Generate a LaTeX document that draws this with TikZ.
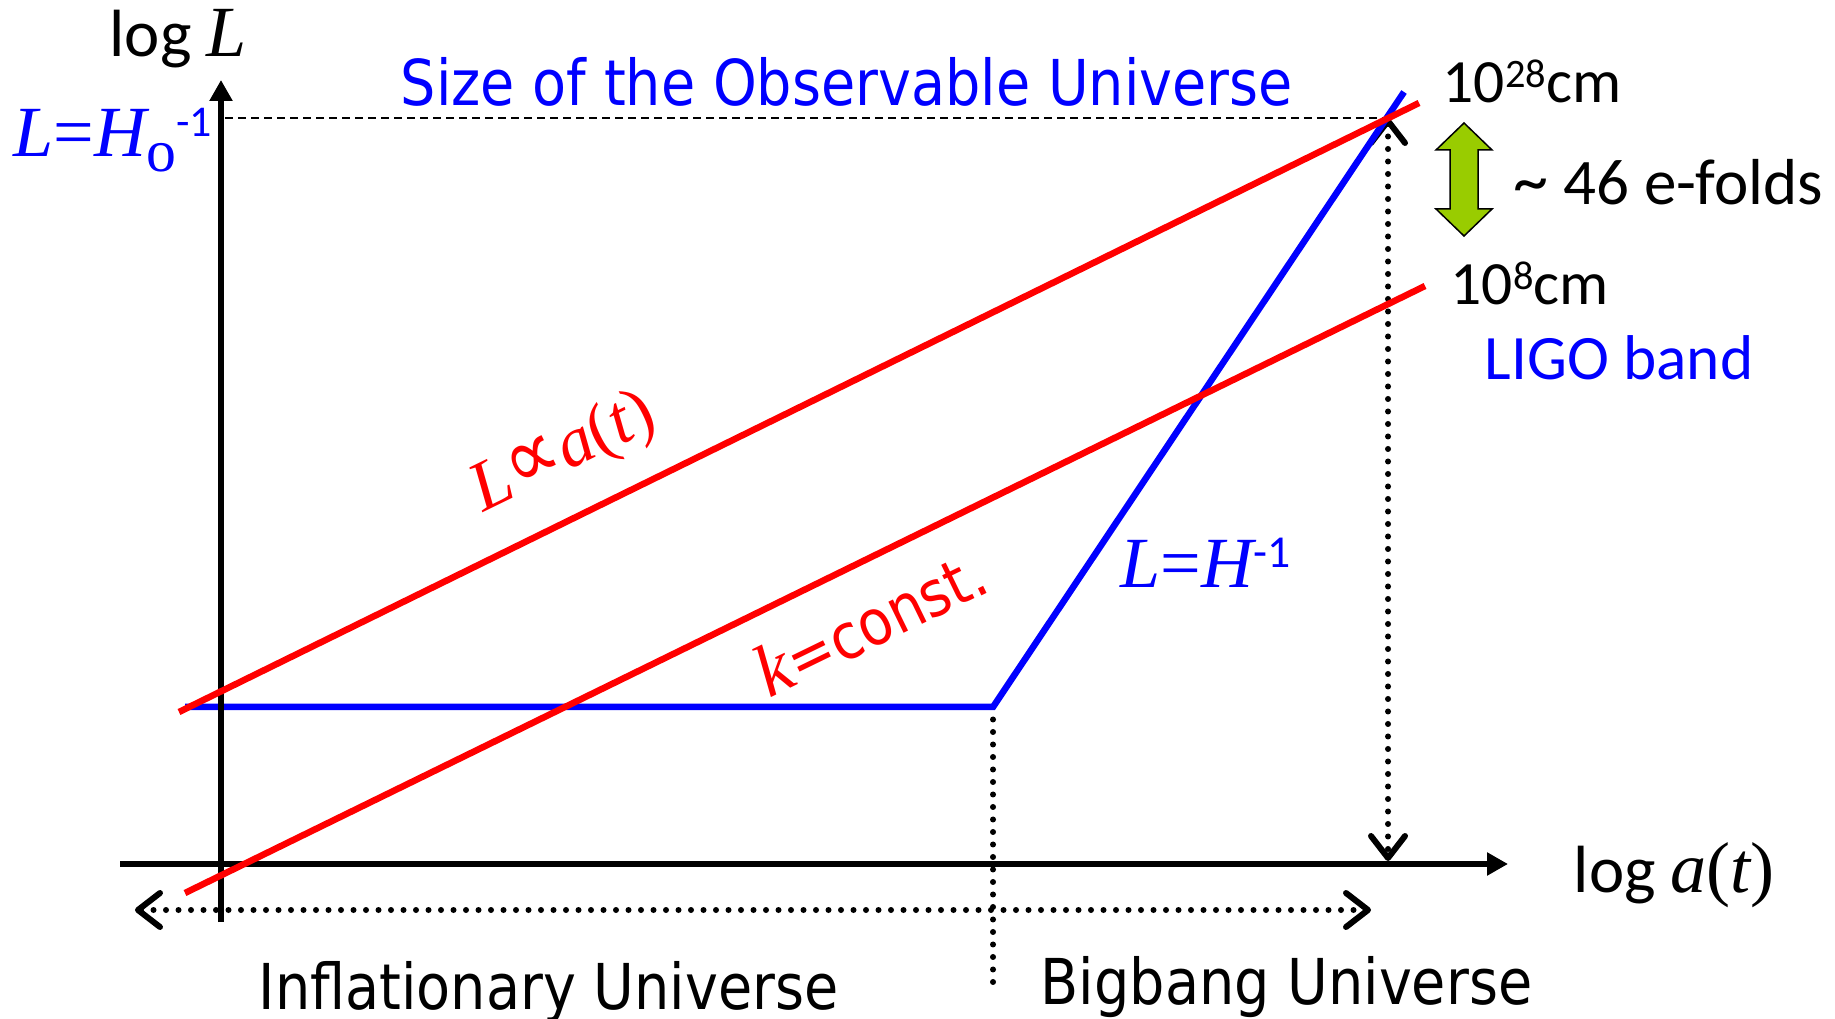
\documentclass[tikz,border=0pt]{standalone}
\usepackage{fontspec}
\setmainfont{DejaVu Sans}[FakeStretch=0.88]
\newfontfamily\calfont{Carlito}
\newfontfamily\serfont{Liberation Serif}
\usetikzlibrary{arrows.meta}
\definecolor{efold}{RGB}{153,204,0}

% letters of the formulas
\newcommand\vari[1]{{\serfont\itshape #1}}
\newcommand\varu[1]{{\serfont #1}}
\newcommand\lifted[3]{\raisebox{#1}{\fontsize{#2}{#2}\selectfont #3}}
\newcommand\mathsz{\fontsize{20.5}{24}\selectfont}

\begin{document}
\begin{tikzpicture}[x=0.1mm, y=-0.1mm,
  lbl/.style={inner sep=0pt, font=\fontsize{18}{22}\selectfont},
  callbl/.style={lbl, font=\calfont\fontsize{18}{22}\selectfont},
  axis/.style={line width=0.55mm, -{Triangle[length=2.1mm,width=2.2mm]}},
  dotline/.style={line width=0.6mm, line cap=round, dash pattern=on 0pt off 1.25mm},
  barbs/.style={{Straight Barb[length=2.2mm,width=3.4mm,round]}-{Straight Barb[length=2.2mm,width=3.4mm,round]}},
  redline/.style={red, line width=0.65mm},
  blueline/.style={blue, line width=0.65mm}]
  \useasboundingbox (0,0) rectangle (1835,1019);

  % key points
  \coordinate (origin) at (221,864);
  \coordinate (ytop) at (221,80);
  \coordinate (ybot) at (221,922);
  \coordinate (xleft) at (120,864);
  \coordinate (xright) at (1508,864);
  \coordinate (corner) at (993,707);
  \coordinate (today) at (1388,118);

  % guides
  \draw[line width=0.18mm, dash pattern=on 0.8mm off 0.5mm] (225,118) -- (today);
  \draw[dotline] (corner) -- (993,985);
  \draw[dotline, barbs] (today) -- (1388,861);
  \draw[dotline, barbs] (135,910) -- (1371,910);

  % horizon
  \draw[blueline] (185,707) -- (corner) -- (1404,92);

  % axes
  \draw[axis] (ybot) -- (ytop);
  \draw[axis] (xleft) -- (xright);

  % scales
  \draw[redline] (179,712) -- (1419,103);
  \draw[redline] (185,893) -- (1425,286);

  % e-folds arrow
  \draw[line width=0.15mm, fill=efold] (1464,123) -- (1492,150) -- (1478,150)
    -- (1478,209) -- (1492,209) -- (1464,236) -- (1436,209) -- (1450,209)
    -- (1450,150) -- (1436,150) -- cycle;

  % labels
  \node[callbl, anchor=base west, font=\calfont\fontsize{19}{22}\selectfont] (logL) at (109,57)
    {log \vari{\mathsz L}};
  \node[lbl, anchor=base west, blue] (title) at (400,106) {Size of the Observable Universe};
  \node[lbl, anchor=base west, blue] (hubble0) at (13,157)
    {\mathsz\vari{L}\varu{=}\vari{H}\lifted{-1.5mm}{17}{\serfont o}\lifted{2mm}{12.5}{\calfont -1}};
  \node[callbl, anchor=base west, font=\calfont\fontsize{17.5}{22}\selectfont] (big) at (1442,103)
    {10\lifted{1.5mm}{11.5}{28}cm};
  \node[callbl, anchor=base west, font=\calfont\fontsize{18.5}{22}\selectfont] (efolds) at (1513,205)
    {\lifted{0pt}{20}{\char"007E}{} 46 e-folds};
  \node[callbl, anchor=base west, font=\calfont\fontsize{17.5}{22}\selectfont] (small) at (1450,305)
    {10\lifted{1.5mm}{11.5}{8}cm};
  \node[callbl, anchor=base west, blue] (ligo) at (1484,380) {LIGO band};
  \node[lbl, anchor=base west, blue] (hubble) at (1120,588)
    {\mathsz\vari{L}\varu{=}\vari{H}\lifted{2mm}{13}{\calfont -1}};
  \node[callbl, anchor=base west, font=\calfont\fontsize{19}{22}\selectfont] (loga) at (1573,892)
    {log \mathsz\vari{a}\varu{(}\vari{t}\varu{)}};
  \node[lbl, red, rotate=26] (propto) at (564,454)
    {\fontsize{20}{24}\selectfont\vari{L}\lifted{0pt}{25}{∝}\vari{a}\varu{(}\vari{t}\varu{)}};
  \node[lbl, red, rotate=26] (kconst) at (870,622)
    {\vari{\fontsize{21}{24}\selectfont k}=const.};
  \node[lbl, anchor=base west] (infl) at (258,1009) {Inflationary Universe};
  \node[lbl, anchor=base west] (bigbang) at (1040,1004) {Bigbang Universe};
\end{tikzpicture}
\end{document}
